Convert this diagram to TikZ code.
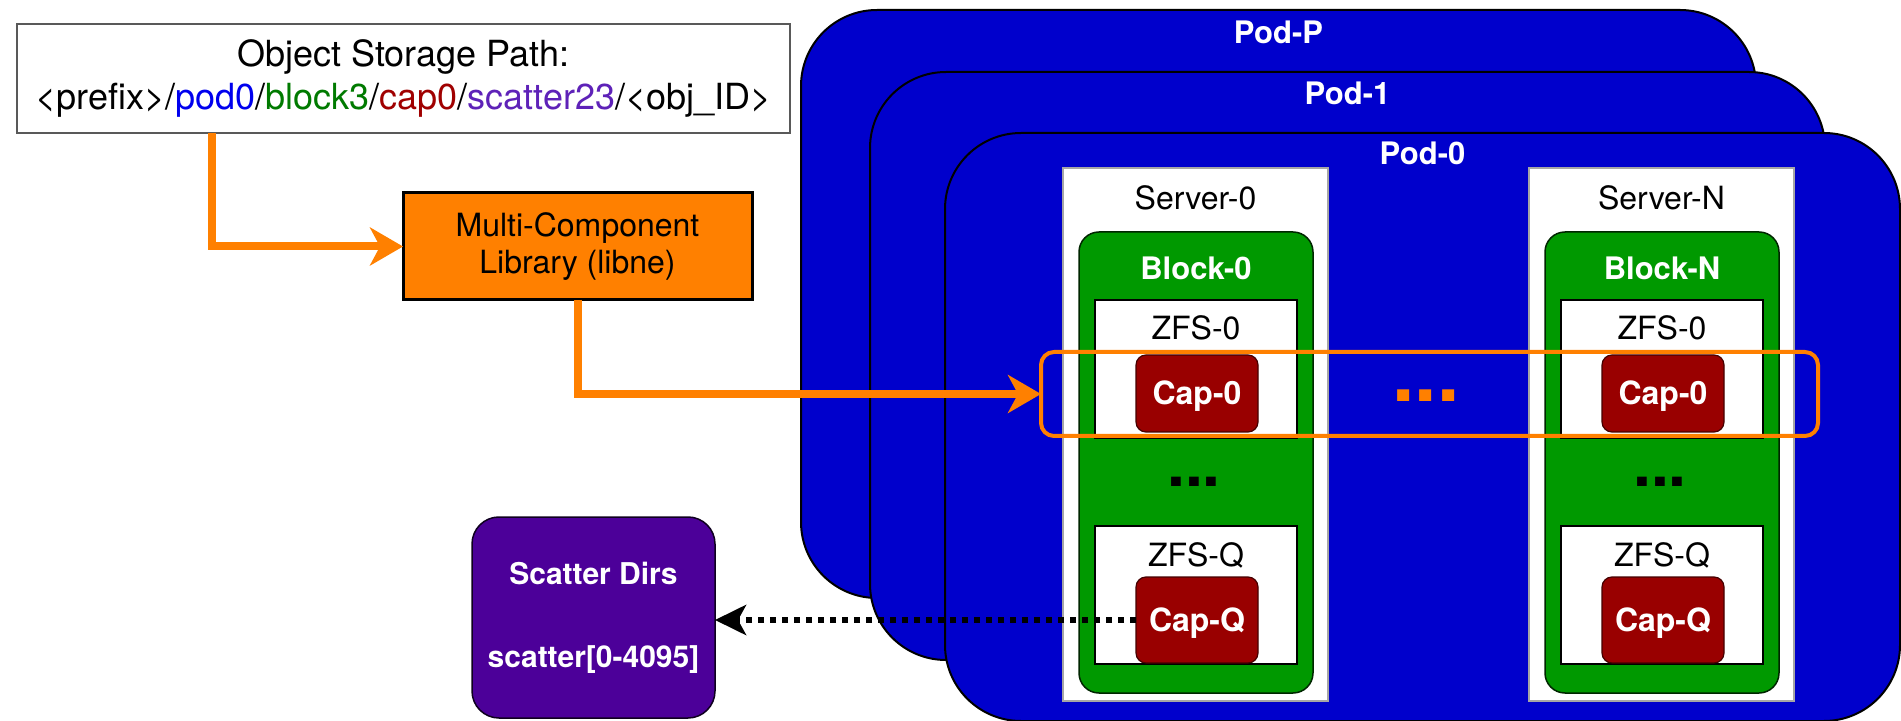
\documentclass[tikz,border=0pt]{standalone}
\usepackage{fontspec}
\setmainfont{TeX Gyre Heros}
\usetikzlibrary{arrows.meta,calc}

\definecolor{podblue}{HTML}{0000CC}
\definecolor{blockgreen}{HTML}{009900}
\definecolor{capred}{HTML}{990000}
\definecolor{liborange}{HTML}{FF8000}
\definecolor{scatterpurple}{HTML}{4C0099}
\definecolor{pathblue}{HTML}{0000EE}
\definecolor{pathgreen}{HTML}{007A00}
\definecolor{pathred}{HTML}{A00000}
\definecolor{pathpurple}{HTML}{5E22B8}

\tikzset{
  every node/.style={inner sep=0pt, outer sep=0pt},
  lbl/.style={text height=11.5pt, text depth=0pt, font=\fontsize{16pt}{19pt}\selectfont},
  wlbl/.style={lbl, text=white, font=\fontsize{15.5pt}{19pt}\selectfont\bfseries},
  objbox/.style={draw=black!65, line width=1pt, fill=white, align=center,
    minimum width=386.5pt, minimum height=54.5pt,
    font=\fontsize{18pt}{21.5pt}\selectfont},
  libbox/.style={draw=black, line width=1.5pt, fill=liborange, align=center,
    minimum width=174.5pt, minimum height=53.5pt,
    font=\fontsize{16pt}{18.5pt}\selectfont},
  scatterbox/.style={draw=black!80!scatterpurple, line width=0.75pt, fill=scatterpurple,
    rounded corners=13.5pt, align=center, text=white,
    minimum width=121.5pt, minimum height=100.5pt,
    font=\fontsize{15pt}{20.75pt}\selectfont\bfseries},
  pod/.style={draw=black, line width=1pt, fill=podblue, rounded corners=38pt,
    minimum width=477.5pt, minimum height=294pt},
  server/.style={draw=black!35, line width=0.75pt, fill=white,
    minimum width=132.5pt, minimum height=266.5pt},
  block/.style={draw=black!75!blockgreen, line width=0.75pt, fill=blockgreen,
    rounded corners=10pt, minimum width=117pt, minimum height=230.5pt},
  zfs/.style={draw=black, line width=0.6pt, fill=white,
    minimum width=101pt, minimum height=69pt},
  capbox/.style={wlbl, draw=black!55!capred, line width=0.6pt, fill=capred,
    rounded corners=5pt, minimum width=61pt,
    font=\fontsize{16pt}{19pt}\selectfont\bfseries},
  rowbox/.style={draw=liborange, line width=2pt, rounded corners=6.5pt,
    minimum width=388.5pt, minimum height=42pt},
  bdots/.style={font=\fontsize{32pt}{32pt}\selectfont\bfseries},
  odots/.style={text=liborange, font=\fontsize{40pt}{40pt}\selectfont\bfseries},
  flow/.style={draw=liborange, line width=4pt,
    -{Stealth[length=16.5pt,width=19pt,inset=5pt]}},
  scatterlink/.style={draw=black, line width=3pt, dash pattern=on 3pt off 3pt,
    -{Stealth[length=15.5pt,width=15pt,inset=4pt]}},
}

\begin{document}
\begin{tikzpicture}[x=0.5pt,y=-0.5pt]
\useasboundingbox (0,0) rectangle (1901,721);

% path description and client library
\node[objbox] (obj) at (403.5,78.5) {Object Storage Path:\\
  <prefix>/\textcolor{pathblue}{pod0}/\textcolor{pathgreen}{block3}/\textcolor{pathred}{cap0}/\textcolor{pathpurple}{scatter23}/<obj\_ID>};
\node[libbox] (lib) at (577.5,246.5) {Multi-Component\\Library (libne)};

% stacked pods
\node[pod] (podP) at (1278.5,304) {};
\node[wlbl] (podPlbl) at (1278.5,32) {Pod-P};
\node[pod] (pod1) at (1347.5,366) {};
\node[wlbl] (pod1lbl) at (1347.5,93) {Pod-1};
\node[pod] (pod0) at (1422.5,427) {};
\node[wlbl] (pod0lbl) at (1422.5,153) {Pod-0};

% server 0
\node[server] (srv0) at (1195.5,434.5) {};
\node[lbl] (srv0lbl) at (1195.5,198) {Server-0};
\node[block] (blk0) at (1196,462.5) {};
\node[wlbl] (blk0lbl) at (1196,268) {Block-0};
\node[zfs] (zfs00) at (1196,369) {};
\node[lbl] (zfs00lbl) at (1196,328) {ZFS-0};
\node[capbox, minimum height=38.5pt] (cap00) at (1197,393.5) {Cap-0};
\node[bdots] (dots0) at (1194,482) {...};
\node[zfs] (zfs0Q) at (1196,595) {};
\node[lbl] (zfs0Qlbl) at (1196,555) {ZFS-Q};
\node[capbox, minimum height=43pt] (cap0Q) at (1197,620) {Cap-Q};

% server N
\node[server] (srvN) at (1661.5,434.5) {};
\node[lbl] (srvNlbl) at (1661.5,198) {Server-N};
\node[block] (blkN) at (1662,462.5) {};
\node[wlbl] (blkNlbl) at (1662,268) {Block-N};
\node[zfs] (zfsN0) at (1662,369) {};
\node[lbl] (zfsN0lbl) at (1662,328) {ZFS-0};
\node[capbox, minimum height=38.5pt] (capN0) at (1663,393.5) {Cap-0};
\node[bdots] (dotsN) at (1660,482) {...};
\node[zfs] (zfsNQ) at (1662,595) {};
\node[lbl] (zfsNQlbl) at (1662,555) {ZFS-Q};
\node[capbox, minimum height=43pt] (capNQ) at (1663,620) {Cap-Q};

% row of first capsules across servers
\node[odots] (rowdots) at (1426,396) {...};
\node[rowbox] (caprow) at (1429.5,394) {};

% scatter directories
\node[scatterbox] (scatter) at (593.5,617.5) {Scatter Dirs\\[20.75pt]scatter[0-4095]};

% connectors
\draw[flow] ([xshift=97.5pt]obj.south west) |- (lib.west);
\draw[flow] (lib.south) |- (caprow.west);
\draw[scatterlink] (cap0Q.west) -- (cap0Q.west -| scatter.east);
\end{tikzpicture}
\end{document}
